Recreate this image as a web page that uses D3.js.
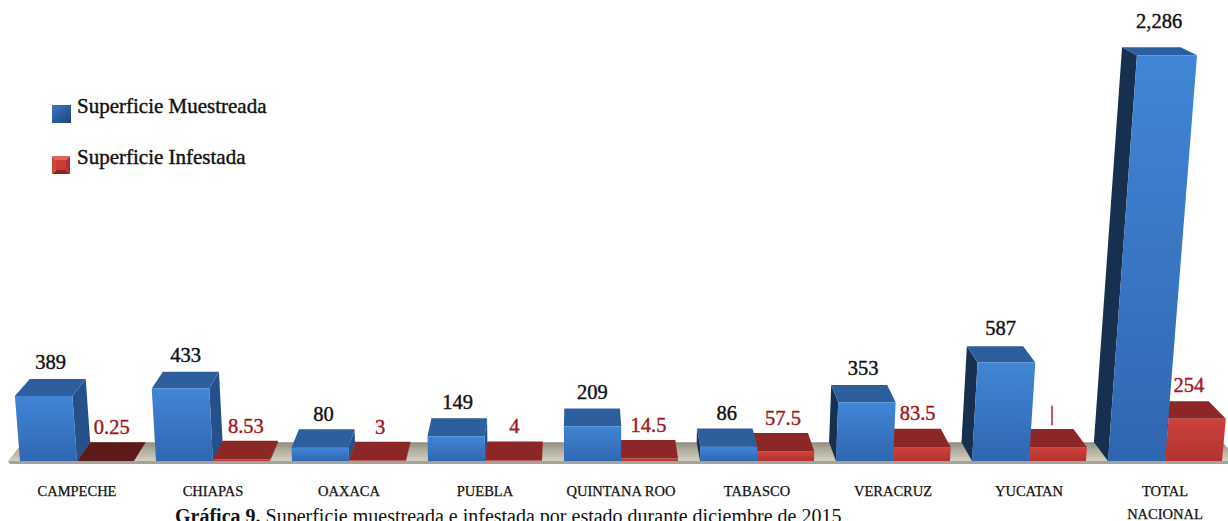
<!DOCTYPE html>
<html lang="es">
<meta charset="utf-8">
<style>
  body { margin: 0; background: #fff; }
  svg { display: block; font-family: "Liberation Serif", "DejaVu Serif", serif; }
  .cat { font-size: 14.5px; fill: #111; stroke: #111; stroke-width: 0.25px; text-anchor: middle; }
  .val { font-size: 20.5px; stroke-width: 0.4px; text-anchor: middle; }
  .legend text { font-size: 21px; fill: #111; stroke: #111; stroke-width: 0.4px; }
</style>
<script src="https://d3js.org/d3.v7.min.js"></script>
<body>
<div id="chart"></div>
<script>
// ---- data ----
const categories = ["CAMPECHE", "CHIAPAS", "OAXACA", "PUEBLA", "QUINTANA ROO",
                    "TABASCO", "VERACRUZ", "YUCATAN", "TOTAL NACIONAL"]
const seriesNames = ["Superficie Muestreada", "Superficie Infestada"]
const muestreada = [389, 433, 80, 149, 209, 86, 353, 587, 2286]
const infestada = [0.25, 8.53, 3, 4, 14.5, 57.5, 83.5, 82.72, 254]
const muestreadaLabels = ["389", "433", "80", "149", "209", "86", "353", "587", "2,286"]
const infestadaLabels = ["0.25", "8.53", "3", "4", "14.5", "57.5", "83.5", "|", "254"]
const caption = ["Gráfica 9.", " Superficie muestreada e infestada por estado durante diciembre de 2015"]

const WIDTH = 1228, HEIGHT = 521
const BASE = 461              // front edge of the floor
const VP = [575, -247]        // where the depth edges run to
const DEPTH = 0.0265          // how far back the bars go
const LEAN_X = 1.44e-4        // tall bars spread out sideways
const STRETCH_Y = 1.88e-4     // and get a bit taller near the top

const svg = d3.select("#chart").append("svg")
  .attr("width", WIDTH)
  .attr("height", HEIGHT)

// scales
const x0 = d3.scaleBand().domain(categories).range([9, 1233])
  .paddingInner(0.162).paddingOuter(0.081)
const x1 = d3.scaleBand().domain(seriesNames).range([0, x0.bandwidth()])
const y = d3.scaleLinear().domain([0, 2286]).range([0, 377])

// simple perspective helpers
const front = (X, h) => [VP[0] + (X - VP[0]) * (1 + h * LEAN_X), BASE - h / (1 - h * STRETCH_Y)]
const back = p => [p[0] + (VP[0] - p[0]) * DEPTH, p[1] + (VP[1] - p[1]) * DEPTH]
const pts = arr => arr.map(p => p.join(",")).join(" ")

// gradients
const defs = svg.append("defs")
function grad(id, stops, x2 = 0, y2 = 1) {
  const g = defs.append("linearGradient").attr("id", id)
    .attr("x1", 0).attr("y1", 0).attr("x2", x2).attr("y2", y2)
  stops.forEach(([o, c]) => g.append("stop").attr("offset", o).attr("stop-color", c))
}
grad("blueFront", [[0, "#4186d6"], [1, "#3066b1"]])
grad("redFront", [[0, "#cc423d"], [1, "#b3322f"]])
grad("floorTop", [[0, "#8f8d80"], [0.45, "#b4b0a0"], [1, "#d3cfc1"]])
grad("blueLegend", [[0, "#3d78c4"], [1, "#1d4177"]], 1, 1)

// floor
const fl = front(8, 0), fr = front(1240, 0)
svg.append("polygon")
  .attr("points", pts([fl, fr, back(fr), back(fl)]))
  .attr("fill", "url(#floorTop)")
svg.append("polygon")
  .attr("points", pts([fl, fr, [fr[0], fr[1] + 3], [fl[0] + 2, fl[1] + 3]]))
  .attr("fill", "#a3a29b")

// bars
const colors = {
  "Superficie Muestreada": { front: "url(#blueFront)", top: "#2d5f9e", right: "#25508a", left: "#17304f" },
  "Superficie Infestada": { front: "url(#redFront)", top: "#8d2727", right: "#6c1c1c", left: "#5a1717" }
}
const bars = []
categories.forEach((c, i) => {
  bars.push({ cat: c, key: seriesNames[0], value: muestreada[i], label: muestreadaLabels[i] })
  bars.push({ cat: c, key: seriesNames[1], value: infestada[i], label: infestadaLabels[i] })
})
bars.forEach(d => {
  d.x = x0(d.cat) + x1(d.key)
  d.w = x1.bandwidth()
  d.h = y(d.value)
  d.dist = Math.abs(d.x + d.w / 2 - VP[0])
})
bars.sort((a, b) => b.dist - a.dist)

const barG = svg.append("g")
bars.forEach(d => {
  const col = colors[d.key]
  const bl = front(d.x, 0), br = front(d.x + d.w, 0)
  const tl = front(d.x, d.h), tr = front(d.x + d.w, d.h)
  const g = barG.append("g")
  if (d.x + d.w / 2 < VP[0]) {
    g.append("polygon").attr("points", pts([br, tr, back(tr), back(br)])).attr("fill", col.right)
  } else {
    g.append("polygon").attr("points", pts([bl, tl, back(tl), back(bl)])).attr("fill", col.left)
  }
  // the nearly flat slab looks darker in the original
  const topFill = d.h < 0.1 ? "#5e1a1a" : col.top
  g.append("polygon").attr("points", pts([tl, tr, back(tr), back(tl)])).attr("fill", topFill)
  g.append("polygon").attr("points", pts([bl, br, tr, tl])).attr("fill", col.front)
  d.top = [tl, tr]
})

// value labels
svg.append("g").selectAll("text")
  .data(bars)
  .join("text")
  .attr("class", "val")
  .attr("x", d => {
    const fc = (d.top[0][0] + d.top[1][0]) / 2
    return (fc + back([fc, d.top[0][1]])[0]) / 2
  })
  .attr("y", d => d.top[0][1] - 27)
  .attr("fill", d => d.key === seriesNames[0] ? "#111" : "#a3151c")
  .attr("stroke", d => d.key === seriesNames[0] ? "#111" : "#a3151c")
  .text(d => d.label)

// category labels
svg.append("g").selectAll("text")
  .data(categories)
  .join("text")
  .attr("class", "cat")
  .attr("x", d => x0(d) + x0.bandwidth() / 2)
  .attr("y", 496)
  .each(function (d) {
    d.startsWith("TOTAL")
      ? d.split(" ").forEach((w, j) => d3.select(this).append("tspan")
          .attr("x", x0(d) + x0.bandwidth() / 2).attr("dy", j ? 23 : 0).text(w))
      : d3.select(this).text(d)
  })

// legend
const legend = svg.append("g").attr("class", "legend")
legend.append("rect").attr("x", 52).attr("y", 105).attr("width", 19).attr("height", 18)
  .attr("fill", "url(#blueLegend)")
const rs = { x: 52, y: 156, s: 18, i: 4 }
const c0 = [rs.x, rs.y], c1 = [rs.x + rs.s, rs.y], c2 = [rs.x + rs.s, rs.y + rs.s], c3 = [rs.x, rs.y + rs.s]
const i0 = [rs.x + rs.i, rs.y + rs.i], i1 = [rs.x + rs.s - rs.i, rs.y + rs.i],
      i2 = [rs.x + rs.s - rs.i, rs.y + rs.s - rs.i], i3 = [rs.x + rs.i, rs.y + rs.s - rs.i]
legend.append("polygon").attr("points", pts([c0, c1, i1, i0])).attr("fill", "#e0645b")
legend.append("polygon").attr("points", pts([c1, c2, i2, i1])).attr("fill", "#b0302c")
legend.append("polygon").attr("points", pts([c2, c3, i3, i2])).attr("fill", "#8e2321")
legend.append("polygon").attr("points", pts([c3, c0, i0, i3])).attr("fill", "#cf463f")
legend.append("polygon").attr("points", pts([i0, i1, i2, i3])).attr("fill", "#c93d38")
legend.append("text").attr("x", 77).attr("y", 113).text(seriesNames[0])
legend.append("text").attr("x", 77).attr("y", 164).text(seriesNames[1])

// caption (cut by the bottom of the picture, as in the original)
const cap = svg.append("text").attr("x", 175).attr("y", 523).attr("font-size", 20).attr("fill", "#111")
cap.append("tspan").attr("font-weight", "bold").text(caption[0])
cap.append("tspan").text(caption[1])
</script>
</body>
</html>
